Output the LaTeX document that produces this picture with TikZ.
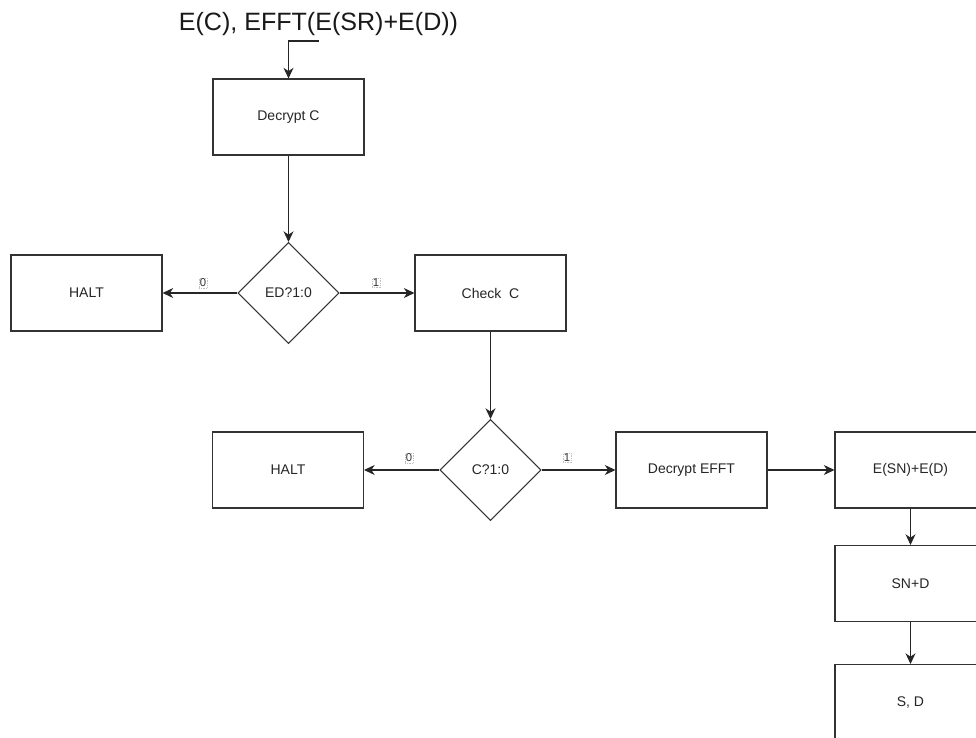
\documentclass[tikz,border=0pt]{standalone}
\usepackage{fontspec}
\setmainfont{Liberation Sans}
\usetikzlibrary{shapes.geometric,arrows.meta}
\begin{document}
\begin{tikzpicture}[x=0.75pt,y=-0.75pt,
  box/.style={draw=black!80,line width=0.8pt,minimum width=113.25pt,minimum height=57pt,inner sep=0pt,font=\fontsize{10.5pt}{12pt}\selectfont,text=black!85,fill=white},
  dia/.style={diamond,draw=black!80,line width=0.8pt,minimum width=75.75pt,minimum height=75.75pt,inner sep=0pt,aspect=1,font=\fontsize{10.5pt}{12pt}\selectfont,text=black!85},
  arr/.style={draw=black!85,line width=0.8pt,-{Stealth[length=8pt,width=7.5pt,inset=2.5pt]}},
  lab/.style={draw=gray!50,densely dotted,line width=0.3pt,inner sep=0.6pt,font=\fontsize{8.5pt}{9pt}\selectfont,text=black!80,fill=white}]
\useasboundingbox (0,0) rectangle (976,738);
\clip (0,0) rectangle (976,738);
\node[font=\fontsize{18.8pt}{22pt}\selectfont,text=black!90] (title) at (318.5,24) {E(C), EFFT(E(SR)+E(D))};
\coordinate (in) at (319,41);
\node[box] (dec) at (288.5,117) {Decrypt C};
\node[dia] (d1) at (288.5,293) {ED?1:0};
\node[box] (halt1) at (86.5,293) {HALT};
\node[box] (check) at (490.5,293) {Check\ \ C};
\node[dia] (d2) at (490.5,470) {C?1:0};
\node[box] (halt2) at (288,470) {HALT};
\node[box] (decE) at (691.5,470) {Decrypt EFFT};
\node[box] (esn) at (910.5,470) {E(SN)+E(D)};
\node[box] (snd) at (910.5,583.5) {SN+D};
\node[box] (sd) at (910.5,702.5) {S, D};
\draw[arr] (in) -| (dec.north);
\draw[arr] (dec.south) -- (d1.north);
\draw[arr] (d1.west) -- (halt1.east);
\draw[arr] (d1.east) -- (check.west);
\draw[arr] (check.south) -- (d2.north);
\draw[arr] (d2.west) -- (halt2.east);
\draw[arr] (d2.east) -- (decE.west);
\draw[arr] (decE.east) -- (esn.west);
\draw[arr] (esn.south) -- (snd.north);
\draw[arr] (snd.south) -- (sd.north);
\node[lab] (l0a) at (203,283) {0};
\node[lab] (l1a) at (376,283) {1};
\node[lab] (l0b) at (409,458) {0};
\node[lab] (l1b) at (567,458) {1};
\end{tikzpicture}
\end{document}
